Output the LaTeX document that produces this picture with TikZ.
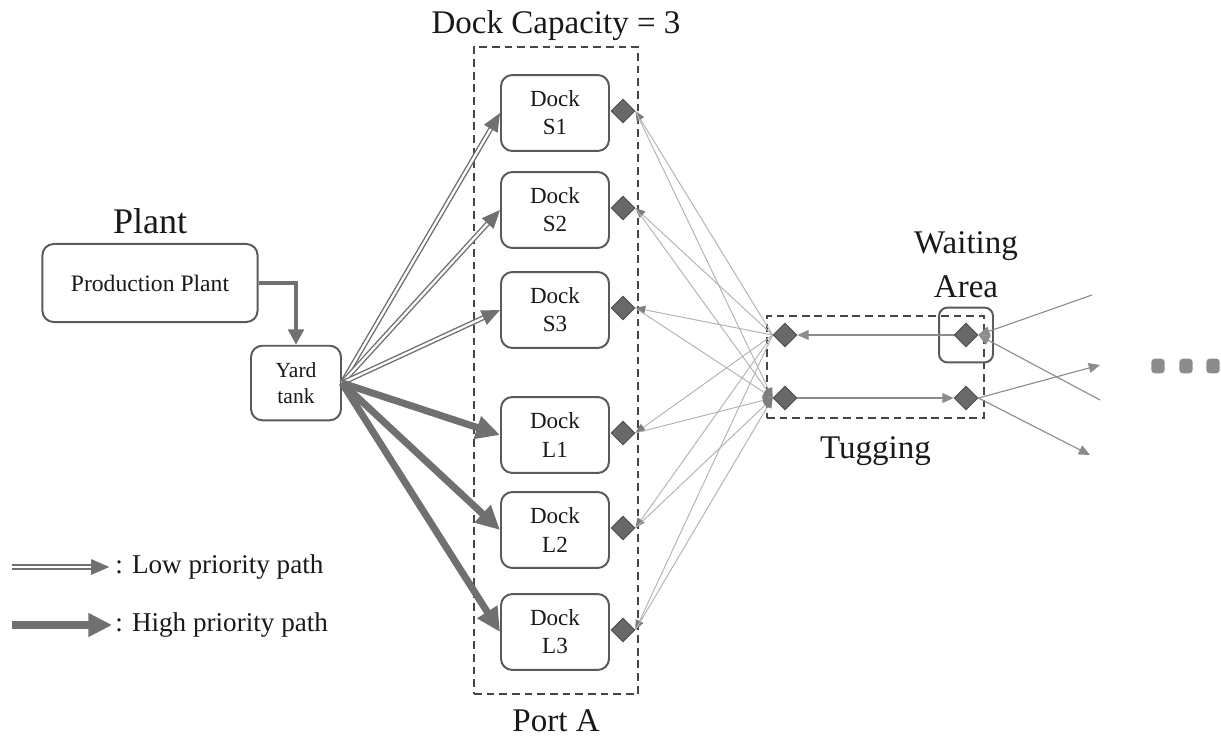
\documentclass[tikz,border=0pt]{standalone}
\usepackage{fontspec}
\setmainfont{Liberation Serif}
\usetikzlibrary{arrows.meta,positioning,shapes.geometric}
\definecolor{ink}{RGB}{25,25,25}
\definecolor{frame}{RGB}{90,90,90}
\definecolor{dashline}{RGB}{70,70,70}
\definecolor{pipe}{RGB}{112,112,112}
\definecolor{stone}{RGB}{105,105,105}
\definecolor{stoneedge}{RGB}{80,80,80}
\definecolor{faint}{RGB}{180,180,180}
\definecolor{tipgray}{RGB}{125,125,125}
\definecolor{route}{RGB}{140,140,140}
\newcommand{\docksize}{\fontsize{16.4}{20}\selectfont}
\newcommand{\yardsize}{\fontsize{15.3}{19}\selectfont}
\newcommand{\bigsize}{\fontsize{23.5}{31}\selectfont}
\newcommand{\legsize}{\fontsize{19.3}{23}\selectfont}
\tikzset{
  every picture/.style={color=ink, line width=0.6pt},
  dock/.style={draw=frame, rounded corners=8pt, line width=1.4pt, fill=white, minimum width=76.8pt, minimum height=54pt, align=center, inner sep=0pt, font=\docksize},
  plantbox/.style={dock, minimum width=153pt, minimum height=55.5pt, font=\fontsize{16.8}{20}\selectfont},
  yardbox/.style={dock, minimum width=64pt, minimum height=53pt, font=\yardsize},
  waitbox/.style={draw=frame, rounded corners=6pt, line width=1.4pt, minimum width=38.4pt, minimum height=39pt, inner sep=0pt},
  stop/.style={diamond, fill=stone, draw=stoneedge, line width=0.6pt, minimum width=17pt, minimum height=17pt, inner sep=0pt},
  area/.style={draw=dashline, dash pattern=on 5.5pt off 3.5pt, line width=1.2pt, inner sep=0pt},
  title/.style={font=\bigsize, align=center, inner sep=0pt},
  legtext/.style={font=\legsize, inner sep=0pt, anchor=west},
  dot/.style={fill=route, rounded corners=2.5pt, minimum width=9.5pt, minimum height=10.5pt, inner sep=0pt},
  low/.style={draw=pipe, double=white, line width=1pt, double distance=1.6pt, -{Triangle[length=13pt,width=11pt,color=pipe]}},
  high/.style={draw=pipe, line width=5pt, -{Triangle[length=17pt,width=16pt]}},
  feed/.style={draw=pipe, line width=3.5pt, -{Triangle[length=11pt,width=11pt]}},
  link/.style={draw=faint, line width=0.7pt, -{Triangle[length=7pt,width=6pt,color=tipgray]}},
  tugline/.style={draw=route, line width=0.8pt, -{Triangle[length=8pt,width=7pt]}},
}
\begin{document}
\begin{tikzpicture}[x=0.025cm, y=-0.025cm]
  % Plant -> yard tank -> six docks of port A, docks <-> tugging lanes,
  % waiting area on the right; legend in the lower left corner.
  \useasboundingbox (0,0) rectangle (1221,736);
  \node[area, minimum width=116.7pt, minimum height=460pt] (port) at (556,370.5) {};
  \node[title, above=4pt of port.north] (cap) {Dock Capacity = 3};
  \node[title, below=10pt of port.south] (portA) {Port A};
  \node[plantbox] (plant) at (150,283) {Production Plant};
  \node[title, font=\fontsize{25.6}{30}\selectfont] (plantlbl) at (150,221) {Plant};
  \node[yardbox] (yard) at (296,383) {Yard\\tank};
  \foreach \dk/\y in {S1/113,S2/210,S3/310,L1/435,L2/530,L3/632} {
    \node[dock] (\dk) at (555,\y) {Dock\\\dk};
    \node[stop] (d\dk) at (623,\y-2) {};
  }
  \draw[feed] (plant.east) -| (yard.north);
  \foreach \dk in {S1,S2,S3} \draw[low] (yard.east) -- (\dk.west);
  \foreach \dk in {L1,L2,L3} \draw[high] (yard.east) -- (\dk.west);
  % tugging lanes and waiting area
  \node[area, minimum width=154.4pt, minimum height=72.5pt] (tug) at (875.5,367) {};
  \node[title, below=12pt of tug.south] (tuglbl) {Tugging};
  \node[waitbox] (wbox) at (966,335) {};
  \node[title] (waitlbl) at (966,265) {Waiting\\Area};
  \node[stop] (t1) at (785,335) {};
  \node[stop] (t2) at (785,398) {};
  \node[stop] (w1) at (966,335) {};
  \node[stop] (w2) at (966,398) {};
  \foreach \dk in {S1,S2,S3,L1,L2,L3} {
    \draw[link] (t1.west) -- (d\dk.east);
    \draw[link] (d\dk.east) -- (t2.west);
  }
  \draw[tugline] (w1.west) -- (t1.east);
  \draw[tugline] (t2.east) -- (w2.west);
  \coordinate (in1) at (1092,295);
  \coordinate (in2) at (1100,400);
  \coordinate (out1) at (1100,365);
  \coordinate (out2) at (1090,455);
  \draw[tugline] (in1) -- (w1.east);
  \draw[tugline] (in2) -- (w1.east);
  \draw[tugline] (w2.east) -- (out1);
  \draw[tugline] (w2.east) -- (out2);
  \foreach \i/\x in {1/1158,2/1186,3/1213} \node[dot] (dot\i) at (\x,366) {};
  % legend
  \node[legtext] (lowtxt) at (115,567) {: Low priority path};
  \node[legtext] (hightxt) at (115,625) {: High priority path};
  \coordinate (lowtail) at (12,567);
  \coordinate (hightail) at (12,625);
  \draw[low, shorten >=4pt] (lowtail) -- (lowtxt.west);
  \draw[high, shorten >=2pt] (hightail) -- (hightxt.west);
\end{tikzpicture}
\end{document}
